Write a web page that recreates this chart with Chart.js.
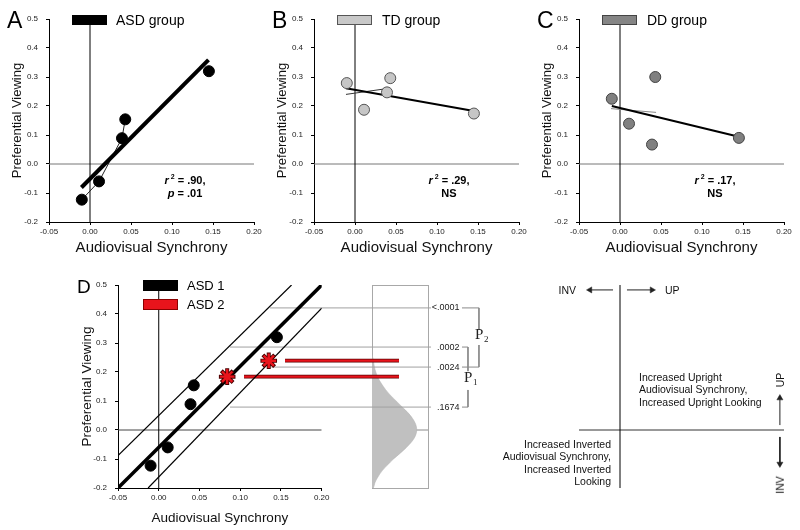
<!DOCTYPE html>
<html>
<head>
<meta charset="utf-8">
<script src="https://cdn.jsdelivr.net/npm/chart.js@4.4.0/dist/chart.umd.min.js"></script>
<style>
  body { margin: 0; background: #fff; }
  #fig { position: relative; width: 800px; height: 530px; overflow: hidden; font-family: "Liberation Sans", Arial, sans-serif; color: #000; }
  #fig canvas { position: absolute; }
  .txt { position: absolute; white-space: nowrap; }
  .letter { font-size: 23px; line-height: 23px; }
  .legend_box { position: absolute; box-sizing: border-box; }
  .legend_txt { font-size: 14px; line-height: 16px; }
  .stat { font-size: 11px; line-height: 13px; font-weight: bold; text-align: center; width: 50px; }
  .stat sup { font-size: 7px; vertical-align: 5px; line-height: 0; }
  .note { font-size: 10.5px; line-height: 12.4px; color: #111; }
  .turn { transform: translate(-50%, -50%) rotate(-90deg); }
</style>
</head>
<body>
<div id="fig">
  <canvas id="chart_a" width="265" height="260" style="left:0px; top:0px;"></canvas>
  <canvas id="chart_b" width="265" height="260" style="left:265px; top:0px;"></canvas>
  <canvas id="chart_c" width="265" height="260" style="left:530px; top:0px;"></canvas>
  <canvas id="chart_dens" width="80" height="260" style="left:360px; top:266px;"></canvas>
  <canvas id="chart_bridge" width="438" height="260" style="left:69px; top:266px;"></canvas>
  <canvas id="chart_d" width="265" height="260" style="left:69px; top:266px;"></canvas>
  <canvas id="chart_e" width="265" height="260" style="left:530px; top:266px;"></canvas>

  <div class="txt letter" style="left:7px; top:9px;">A</div>
  <div class="txt letter" style="left:272px; top:9px;">B</div>
  <div class="txt letter" style="left:537px; top:9px;">C</div>
  <div class="txt" style="left:77px; top:277px; font-size:19px; line-height:19px;">D</div>

  <div class="legend_box" style="left:72px; top:15px; width:35px; height:10px; background:#000;"></div>
  <div class="txt legend_txt" style="left:116px; top:12px;">ASD group</div>
  <div class="legend_box" style="left:337px; top:15px; width:35px; height:10px; background:#c8c8c8; border:1px solid #555;"></div>
  <div class="txt legend_txt" style="left:382px; top:12px;">TD group</div>
  <div class="legend_box" style="left:602px; top:15px; width:35px; height:10px; background:#858585; border:1px solid #444;"></div>
  <div class="txt legend_txt" style="left:647px; top:12px;">DD group</div>

  <div class="legend_box" style="left:143px; top:280px; width:35px; height:11px; background:#000;"></div>
  <div class="txt" style="left:187px; top:278px; font-size:13px; line-height:15px;">ASD 1</div>
  <div class="legend_box" style="left:143px; top:299px; width:35px; height:11px; background:#e8141c; border:1px solid #8a0000;"></div>
  <div class="txt" style="left:187px; top:297px; font-size:13px; line-height:15px;">ASD 2</div>

  <div class="txt stat" style="left:160px; top:174px;"><i>r</i><sup> 2</sup> = .90,<br><i>p</i> = .01</div>
  <div class="txt stat" style="left:424px; top:174px;"><i>r</i><sup> 2</sup> = .29,<br>NS</div>
  <div class="txt stat" style="left:690px; top:174px;"><i>r</i><sup> 2</sup> = .17,<br>NS</div>

  <div class="txt note" style="left:540px; top:284px; width:36px; text-align:right;">INV</div>
  <div class="txt note" style="left:665px; top:284px;">UP</div>
  <div class="txt note" style="left:639px; top:371px;">Increased Upright<br>Audiovisual Synchrony,<br>Increased Upright Looking</div>
  <div class="txt note" style="left:480px; top:438px; width:131px; text-align:right;">Increased Inverted<br>Audiovisual Synchrony,<br>Increased Inverted<br>Looking</div>
  <div class="txt note turn" style="left:780px; top:380px;">UP</div>
  <div class="txt note turn" style="left:780px; top:485px;">INV</div>
</div>
<script>
Chart.defaults.font.family = '"Liberation Sans", Arial, Helvetica, sans-serif';

// tick labels shared by every scatter panel
const x_tick_values = [-0.05, 0, 0.05, 0.1, 0.15, 0.2];
const x_tick_labels = ['-0.05', '0.00', '0.05', '0.10', '0.15', '0.20'];
const y_tick_values = [-0.2, -0.1, 0, 0.1, 0.2, 0.3, 0.4, 0.5];
const y_tick_labels = ['-0.2', '-0.1', '0.0', '0.1', '0.2', '0.3', '0.4', '0.5'];

// audiovisual synchrony per stimulus, viewing per group
const sync_x = [-0.01, 0.011, 0.039, 0.043, 0.145];
const asd_view = [-0.123, -0.06, 0.089, 0.154, 0.32];
const td_view = [0.279, 0.187, 0.247, 0.296, 0.174];
const dd_view = [0.225, 0.139, 0.067, 0.3, 0.09];

// fitted lines (end points)
const asd_fit = [[-0.0105, -0.081], [0.1445, 0.359]];
const td_fit = [[-0.011, 0.261], [0.145, 0.183]];
const dd_fit = [[-0.01, 0.2], [0.145, 0.094]];
const td_trend = [[-0.011, 0.24], [0.039, 0.26]];
const dd_trend = [[-0.011, 0.191], [0.044, 0.178]];

// panel D: prediction band and the two ASD 2 points
const band_mid = [[-0.05, -0.2], [0.2, 0.5]];
const band_upper = [[-0.05, -0.088], [0.163, 0.5]];
const band_lower = [[-0.013, -0.2], [0.2, 0.42]];
const asd2_x = [0.084, 0.135];
const asd2_view = [0.184, 0.239];
const asd2_bar_start = [0.1037, 0.1537];
const asd2_bar_end = 0.2927;

// p thresholds on the null distribution
const p_levels = [0.421, 0.286, 0.217, 0.079];
const p_labels = ['<.0001', '.0002', '.0024', '.1674'];
const p_line_start = [0.1354, 0.0866, 0.137, 0.0866];
const p_line_end = 0.3317;
const p_label_x = 0.3665;
const p2_bracket = [[[0.3695, 0.421], [0.3902, 0.421], [0.3902, 0.345]], [[0.3902, 0.293], [0.3902, 0.217], [0.3695, 0.217]]];
const p1_bracket = [[[0.3695, 0.286], [0.3768, 0.286], [0.3768, 0.203]], [[0.3768, 0.138], [0.3768, 0.079], [0.3695, 0.079]]];
const p_marks = [{ x: 0.3902, y: 0.3276, sub: '2' }, { x: 0.3768, y: 0.179, sub: '1' }];

// null distribution of preferential viewing (relative density)
const dens_view = [0.26, 0.24, 0.22, 0.2, 0.18, 0.16, 0.14, 0.12, 0.1, 0.08, 0.06, 0.04, 0.02, 0, -0.02, -0.04, -0.06, -0.08, -0.1, -0.12, -0.14, -0.16, -0.18, -0.2];
const dens_value = [0, 0.03, 0.05, 0.085, 0.135, 0.21, 0.3, 0.41, 0.54, 0.67, 0.8, 0.905, 0.975, 1, 0.97, 0.89, 0.77, 0.63, 0.48, 0.35, 0.23, 0.14, 0.07, 0.03];

// schematic arrows (start, end)
const arrow_inv_top = [[-0.0085, 0.483], [-0.0366, 0.483]];
const arrow_up_top = [[0.0085, 0.483], [0.039, 0.483]];
const arrow_up_side = [[0.195, 0.017], [0.195, 0.11]];
const arrow_inv_side = [[0.195, -0.024], [0.195, -0.117]];

const x_min = x_tick_values[0];
const x_max = x_tick_values[x_tick_values.length - 1];
const y_min = y_tick_values[0];
const y_max = y_tick_values[y_tick_values.length - 1];
const zero_h = [[x_min, 0], [x_max, 0]];
const zero_v = [[0, y_min], [0, y_max]];

function line_set(points, color, width) {
    return {
        data: points.map((p) => ({ x: p[0], y: p[1] })),
        showLine: true,
        borderColor: color,
        borderWidth: width,
        pointRadius: 0,
        fill: false,
    };
}

function point_set(xs, ys, fill, edge, radius) {
    return {
        data: xs.map((x, i) => ({ x: x, y: ys[i] })),
        showLine: false,
        pointRadius: radius,
        pointBackgroundColor: fill,
        pointBorderColor: edge,
        pointBorderWidth: 1,
    };
}

function star_set(color, radius, width) {
    const set = point_set(asd2_x, asd2_view, color, color, radius);
    set.pointStyle = 'star';
    set.pointBorderWidth = width;
    return set;
}

function arrow_set(points, angle) {
    const set = line_set(points, '#222', 1);
    set.pointRadius = [0, 3.5];
    set.pointStyle = 'triangle';
    set.pointRotation = [0, angle];
    set.pointBackgroundColor = '#222';
    set.pointBorderColor = '#222';
    set.pointBorderWidth = 0.5;
    return set;
}

function axis_scales(x_title_size, y_title_size, x_title_pad) {
    const tick_font = { size: 8 };
    return {
        x: {
            type: 'linear',
            min: x_min,
            max: x_max,
            afterBuildTicks: (s) => { s.ticks = x_tick_values.map((v) => ({ value: v })); },
            afterFit: (s) => { s.height = 38; },
            ticks: { callback: (v, i) => x_tick_labels[i], font: tick_font, color: '#222', padding: 2, maxRotation: 0, autoSkip: false },
            grid: { drawOnChartArea: false, drawTicks: true, tickLength: 3, tickColor: '#000' },
            border: { color: '#000', width: 1 },
            title: { display: true, text: 'Audiovisual Synchrony', color: '#111', font: { size: x_title_size }, padding: { top: 0, bottom: x_title_pad } },
        },
        y: {
            type: 'linear',
            min: y_min,
            max: y_max,
            afterBuildTicks: (s) => { s.ticks = y_tick_values.map((v) => ({ value: v })); },
            afterFit: (s) => { s.width = 49; },
            ticks: { callback: (v, i) => y_tick_labels[i], font: tick_font, color: '#222', padding: 8, autoSkip: false },
            grid: { drawOnChartArea: false, drawTicks: true, tickLength: 3, tickColor: '#000' },
            border: { color: '#000', width: 1 },
            title: { display: true, text: 'Preferential Viewing', color: '#111', font: { size: y_title_size }, padding: { top: 10, bottom: 0 } },
        },
    };
}

function hidden_scales(x_lo, x_hi) {
    return {
        x: { type: 'linear', display: false, min: x_lo, max: x_hi },
        y: { type: 'linear', display: false, min: y_min, max: y_max },
    };
}

function make_chart(canvas_id, datasets, scales, padding, extra_plugins) {
    const canvas = document.getElementById(canvas_id);
    return new Chart(canvas.getContext('2d'), {
        type: 'scatter',
        data: { datasets: datasets },
        options: {
            responsive: false,
            animation: false,
            devicePixelRatio: 1,
            events: [],
            layout: { padding: padding },
            plugins: { legend: { display: false }, tooltip: { enabled: false } },
            scales: scales,
        },
        plugins: extra_plugins || [],
    });
}

const panel_pad = { left: 0, right: 11, top: 19, bottom: 0 };

make_chart('chart_a', [
    point_set(sync_x, asd_view, '#000', '#000', 5.5),
    line_set(asd_fit, '#000', 4),
    line_set(sync_x.slice(0, 4).map((x, i) => [x, asd_view[i]]), '#222', 1),
    line_set(zero_v, '#000', 1),
    line_set(zero_h, '#777', 1),
], axis_scales(15, 13, 3), panel_pad);

make_chart('chart_b', [
    point_set(sync_x, td_view, '#c6c6c6', '#555', 5.5),
    line_set(td_fit, '#000', 2),
    line_set(td_trend, '#333', 1),
    line_set(zero_v, '#000', 1),
    line_set(zero_h, '#777', 1),
], axis_scales(15, 13, 3), panel_pad);

make_chart('chart_c', [
    point_set(sync_x, dd_view, '#808080', '#444', 5.5),
    line_set(dd_fit, '#000', 2),
    line_set(dd_trend, '#888', 1),
    line_set(zero_v, '#000', 1),
    line_set(zero_h, '#777', 1),
], axis_scales(15, 13, 3), panel_pad);

// null distribution box
const dens_points = dens_view.map((v, i) => ({ x: dens_value[i], y: v }));
dens_points.push({ x: 0, y: y_min });
const box_axis = (pos) => ({
    type: 'linear',
    position: pos,
    min: pos === 'top' || pos === 'bottom' ? 0 : y_min,
    max: pos === 'top' || pos === 'bottom' ? 1.25 : y_max,
    ticks: { display: false },
    grid: { drawOnChartArea: false, drawTicks: false },
    border: { color: '#a8a8a8', width: 1 },
    afterFit: (s) => { if (s.isHorizontal()) { s.height = 0; } else { s.width = 0; } },
});
make_chart('chart_dens', [
    {
        data: dens_points,
        showLine: true,
        pointRadius: 0,
        borderColor: '#b0b0b0',
        borderWidth: 0.5,
        backgroundColor: '#c0c0c0',
        fill: 'shape',
        tension: 0.3,
    },
    line_set([[0, 0], [1.25, 0]], '#8a8a8a', 1),
], { x: box_axis('bottom'), y: box_axis('left'), x2: box_axis('top'), y2: box_axis('right') },
{ left: 12, right: 12, top: 19, bottom: 38 });

// threshold lines, ASD 2 bars and p brackets
const p_text_plugin = {
    id: 'p_text',
    afterDatasetsDraw(chart) {
        const ctx = chart.ctx;
        const xs = chart.scales.x;
        const ys = chart.scales.y;
        ctx.save();
        ctx.fillStyle = '#222';
        ctx.textBaseline = 'middle';
        ctx.textAlign = 'right';
        ctx.font = '9px "Liberation Sans", Arial, sans-serif';
        p_levels.forEach((lvl, i) => {
            ctx.fillText(p_labels[i], xs.getPixelForValue(p_label_x), ys.getPixelForValue(lvl));
        });
        ctx.textAlign = 'left';
        p_marks.forEach((m) => {
            const px = xs.getPixelForValue(m.x);
            const py = ys.getPixelForValue(m.y);
            ctx.font = '15px "Liberation Serif", "DejaVu Serif", serif';
            ctx.fillText('P', px - 4, py);
            ctx.font = '9px "Liberation Serif", "DejaVu Serif", serif';
            ctx.fillText(m.sub, px + 5, py + 5);
        });
        ctx.restore();
    },
};

const bridge_sets = [];
asd2_view.forEach((v, i) => {
    bridge_sets.push(line_set([[asd2_bar_start[i], v], [asd2_bar_end, v]], '#e8141c', 2.2));
});
asd2_view.forEach((v, i) => {
    bridge_sets.push(line_set([[asd2_bar_start[i], v], [asd2_bar_end, v]], '#5a0000', 3.8));
});
p_levels.forEach((lvl, i) => {
    bridge_sets.push(line_set([[p_line_start[i], lvl], [p_line_end, lvl]], '#a0a0a0', 1));
});
p2_bracket.concat(p1_bracket).forEach((seg) => {
    bridge_sets.push(line_set(seg, '#8a8a8a', 1));
});
make_chart('chart_bridge', bridge_sets, hidden_scales(x_min, 0.4),
    { left: 49, right: 20, top: 19, bottom: 38 }, [p_text_plugin]);

// panel D
make_chart('chart_d', [
    star_set('#e8141c', 7.3, 2.4),
    star_set('#4a0000', 8.3, 4),
    point_set(sync_x, asd_view, '#000', '#000', 5.5),
    line_set(band_mid, '#000', 3.5),
    line_set(band_upper, '#000', 1.2),
    line_set(band_lower, '#000', 1.2),
    line_set(zero_v, '#000', 1),
    line_set(zero_h, '#444', 1),
], axis_scales(13.5, 13.5, 0), panel_pad);

// schematic panel
make_chart('chart_e', [
    arrow_set(arrow_inv_top, -90),
    arrow_set(arrow_up_top, 90),
    arrow_set(arrow_up_side, 0),
    arrow_set(arrow_inv_side, 180),
    line_set(zero_v, '#000', 1),
    line_set(zero_h, '#333', 1),
], hidden_scales(x_min, x_max), { left: 49, right: 11, top: 19, bottom: 38 });
</script>
</body>
</html>
